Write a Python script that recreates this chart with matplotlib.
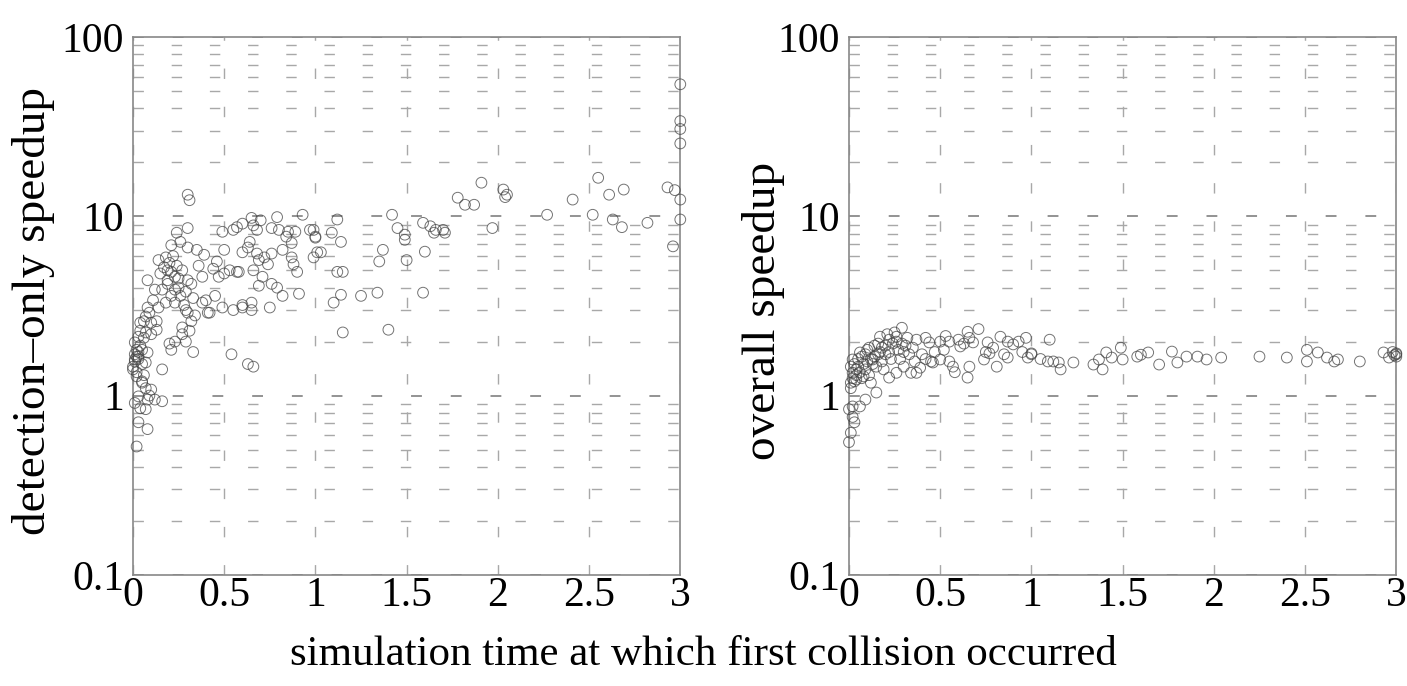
#!/usr/bin/env python

#libraries
import numpy as np
import matplotlib
matplotlib.use("Agg")
import matplotlib.pyplot as plt
from matplotlib.ticker import LogLocator, NullFormatter, FixedLocator

plt.rcParams['font.family'] = ['Liberation Serif', 'DejaVu Serif']

#detection-only speedup (left panel)
det_x = [0.30, 0.31, 0.30, 0.24, 0.21, 0.26, 0.30, 0.35, 0.39, 0.50, 0.49, 0.57, 0.60,
         0.65, 0.66, 0.68, 0.79, 0.76, 0.80, 0.93, 0.97, 1.00, 1.01, 0.99, 0.85, 0.89,
         0.84, 0.87, 0.82, 0.87, 0.88, 0.90, 0.60, 0.63, 0.64, 0.68, 0.69, 0.72, 0.76,
         0.74, 0.71, 0.76, 0.82, 0.91, 0.79, 0.69, 0.66, 0.57, 0.50, 0.47, 0.49, 0.60,
         0.65, 0.75, 0.54, 0.66, 0.38, 0.38, 0.41, 0.42, 0.33, 0.21, 0.16, 0.27, 0.29,
         0.23, 0.20, 0.14, 0.18, 0.19, 0.23, 0.27, 0.30, 0.32, 0.29, 0.25, 0.21, 0.18,
         0.14, 0.08, 0.12, 0.16, 0.19, 0.23, 0.08, 0.07, 0.04, 0.10, 0.13, 0.07, 0.03,
         0.01, 0.05, 0.08, 0.03, 0.01, 0.07, 0.00, 0.02, 0.05, 0.10, 0.03, 0.08, 0.16,
         0.01, 0.07, 0.03, 0.08, 0.02, 0.01, 0.02, 0.03, 0.02, 0.04, 0.01, 0.03, 0.00,
         0.02, 0.05, 0.06, 0.04, 0.06, 0.09, 0.11, 0.13, 0.10, 0.05, 0.07, 0.09, 0.12,
         0.04, 0.06, 0.15, 0.17, 0.20, 0.22, 0.24, 0.19, 0.21, 0.23, 0.25, 0.26, 0.28,
         0.30, 0.32, 0.27, 0.31, 0.33, 0.29, 1.91, 1.78, 1.82, 1.87, 2.05, 1.97, 1.59,
         1.63, 1.66, 1.70, 1.71, 1.65, 1.60, 1.42, 1.45, 1.49, 1.49, 1.50, 1.35, 1.15,
         1.40, 1.12, 1.09, 1.14, 1.12, 1.15, 1.14, 1.10, 1.25, 1.34, 0.99, 1.00, 1.03,
         2.03, 2.04, 2.27, 2.41, 2.55, 2.61, 2.69, 2.52, 2.63, 2.68, 2.82, 2.93, 3.00,
         3.00, 2.96, 3.00, 3.00, 3.00, 3.00, 2.97, 1.37, 1.59, 0.55, 0.60, 0.65, 0.63,
         0.55, 0.44, 0.46, 0.36, 0.40, 0.53, 0.58, 0.70, 0.45, 0.34]
det_y = [13.2, 12.3, 8.6, 8.1, 6.9, 7.2, 6.7, 6.5, 6.1, 6.5, 8.2, 8.7, 9.1,
         9.8, 8.9, 8.4, 9.9, 8.6, 8.4, 10.2, 8.4, 7.7, 6.3, 5.9, 8.2, 8.2,
         7.7, 7.1, 6.5, 5.9, 5.4, 4.9, 6.3, 6.7, 7.2, 6.2, 5.7, 5.9, 6.2,
         5.4, 4.6, 4.2, 3.6, 3.7, 4.0, 4.1, 5.0, 4.9, 4.8, 4.6, 3.1, 3.1,
         3.0, 3.1, 1.7, 1.45, 4.6, 3.3, 2.9, 2.9, 1.75, 1.8, 1.4, 2.2, 2.0,
         2.0, 1.95, 5.7, 5.9, 5.0, 4.6, 5.0, 4.4, 4.2, 3.8, 4.0, 3.6, 3.3,
         3.1, 4.4, 3.9, 3.9, 4.2, 3.3, 3.1, 2.76, 2.55, 2.55, 2.33, 2.25, 2.13,
         1.98, 1.80, 1.74, 1.65, 1.59, 1.53, 1.40, 1.28, 1.18, 1.08, 0.99, 0.95, 0.93,
         0.91, 0.84, 0.71, 0.65, 0.52, 1.7, 1.8, 1.75, 1.65, 1.9, 1.55, 1.6, 1.45,
         1.35, 1.5, 2.1, 2.3, 2.6, 2.9, 3.4, 2.6, 2.2, 1.2, 1.1, 1.0, 0.95,
         0.85, 1.3, 4.8, 5.2, 5.5, 6.0, 5.3, 4.4, 4.9, 3.9, 4.5, 3.6, 3.2,
         2.9, 2.6, 2.4, 2.3, 3.5, 3.0, 15.4, 12.7, 11.6, 11.6, 13.2, 8.6, 9.2,
         8.8, 8.4, 8.4, 8.1, 8.1, 6.35, 10.2, 8.6, 7.9, 7.4, 5.7, 5.6, 2.25,
         2.33, 9.6, 8.1, 7.2, 4.9, 4.9, 3.65, 3.3, 3.6, 3.75, 8.4, 7.6, 6.3,
         14.1, 12.8, 10.2, 12.4, 16.4, 13.2, 14.1, 10.2, 9.6, 8.7, 9.2, 14.5, 12.4,
         9.6, 6.8, 54.5, 34.0, 30.7, 25.5, 14.0, 6.5, 3.75, 3.0, 3.2, 3.3, 1.5,
         8.4, 5.1, 5.6, 5.3, 3.4, 5.0, 4.9, 9.5, 3.6, 2.8]

#overall speedup (right panel)
ovr_x = [0.29, 0.17, 0.22, 0.26, 0.32, 0.37, 0.42, 0.44, 0.50, 0.55, 0.60, 0.65, 0.66,
         0.61, 0.68, 0.76, 0.83, 0.87, 0.90, 0.74, 0.81, 0.87, 0.98, 0.65, 0.66, 0.55,
         0.50, 0.46, 0.39, 0.37, 0.34, 0.30, 0.26, 0.22, 0.19, 0.15, 0.13, 0.10, 0.06,
         0.02, 0.01, 0.02, 0.04, 0.01, 0.08, 0.12, 0.15, 0.09, 0.06, 0.02, 0.00, 0.02,
         0.03, 0.01, 0.00, 0.03, 0.05, 0.07, 0.09, 0.11, 0.14, 0.16, 0.18, 0.20, 0.24,
         0.27, 0.12, 0.16, 0.20, 0.23, 0.28, 0.30, 0.33, 0.35, 0.04, 0.06, 0.02, 0.05,
         0.08, 0.10, 0.13, 0.18, 0.22, 0.26, 0.29, 0.40, 0.42, 0.47, 0.75, 0.77, 0.95,
         1.00, 1.00, 1.05, 0.93, 1.10, 1.09, 1.12, 1.15, 1.16, 1.23, 1.34, 1.39, 1.37,
         1.41, 1.44, 1.50, 1.49, 1.58, 1.60, 1.64, 1.70, 1.77, 1.80, 1.85, 1.91, 1.96,
         2.04, 2.25, 2.40, 2.51, 2.51, 2.57, 2.62, 2.66, 2.68, 2.80, 2.93, 2.96, 3.00,
         3.00, 3.00, 2.99, 2.98, 0.01, 0.03, 0.04, 0.07, 0.09, 0.11, 0.14, 0.17, 0.21,
         0.25, 0.31, 0.36, 0.52, 0.57, 0.71, 0.79, 0.85, 0.97, 0.58, 0.45, 0.53, 0.63]
ovr_y = [2.39, 2.13, 2.05, 2.13, 2.10, 2.05, 2.10, 1.98, 2.00, 2.00, 2.05, 2.27, 2.10,
         1.88, 1.98, 1.98, 2.13, 2.00, 1.93, 1.59, 1.45, 1.63, 1.63, 1.26, 1.45, 1.55,
         1.59, 1.53, 1.43, 1.34, 1.34, 1.45, 1.34, 1.26, 1.40, 1.45, 1.59, 1.80, 1.74,
         1.59, 1.45, 1.34, 1.23, 1.18, 1.28, 1.18, 1.04, 0.95, 0.87, 0.87, 0.84, 0.76,
         0.71, 0.62, 0.55, 1.50, 1.60, 1.65, 1.70, 1.85, 1.90, 1.95, 1.85, 1.90, 1.95,
         1.80, 1.60, 1.70, 1.70, 1.60, 1.60, 1.75, 1.70, 1.85, 1.30, 1.35, 1.25, 1.45,
         1.50, 1.55, 1.50, 1.55, 1.75, 2.00, 1.95, 1.70, 1.60, 1.75, 1.75, 1.72, 1.75,
         1.70, 1.72, 1.60, 2.00, 2.05, 1.55, 1.55, 1.53, 1.40, 1.53, 1.49, 1.40, 1.59,
         1.74, 1.63, 1.59, 1.85, 1.65, 1.69, 1.74, 1.49, 1.76, 1.53, 1.65, 1.65, 1.59,
         1.63, 1.65, 1.63, 1.80, 1.55, 1.74, 1.63, 1.55, 1.59, 1.55, 1.74, 1.63, 1.65,
         1.70, 1.72, 1.68, 1.75, 1.10, 1.20, 1.40, 1.25, 1.40, 1.30, 1.65, 1.75, 2.20,
         2.25, 1.90, 1.55, 1.80, 1.45, 2.35, 1.85, 1.70, 2.10, 1.35, 1.55, 2.15, 1.95]

xticks = [0, 0.5, 1, 1.5, 2, 2.5, 3]
xticklabels = ['0', '0.5', '1', '1.5', '2', '2.5', '3']
yticks = [0.1, 1, 10, 100]
yticklabels = ['0.1', '1', '10', '100']

fig = plt.figure(figsize=(14.07, 6.86), dpi=100)
ax1 = fig.add_axes([0.0945, 0.162, 0.389, 0.784])
ax2 = fig.add_axes([0.6034, 0.162, 0.389, 0.784])

def style(ax, ylabel, labelx):
  ax.set_yscale('log')
  ax.set_xlim(0, 3)
  ax.set_ylim(0.1, 100)
  ax.xaxis.set_major_locator(FixedLocator(xticks))
  ax.set_xticklabels(xticklabels)
  ax.yaxis.set_major_locator(FixedLocator(yticks))
  ax.set_yticklabels(yticklabels)
  ax.yaxis.set_minor_locator(LogLocator(base=10, subs=np.arange(2, 10)))
  ax.yaxis.set_minor_formatter(NullFormatter())
  ax.tick_params(which='both', length=0, labelsize=30)
  ax.tick_params(axis='x', pad=1)
  ax.tick_params(axis='y', pad=6.5)
  # gnuplot-like dashed grid
  ax.grid(True, axis='y', which='major', color='#8a8a8a', lw=1.3, dashes=(6, 16))
  ax.grid(True, axis='y', which='minor', color='#a8a8a8', lw=1.0, dashes=(7.5, 20))
  ax.grid(True, axis='x', which='major', color='#a8a8a8', lw=1.0, dashes=(7.5, 20))
  for s in ax.spines.values():
    s.set_color('#888888')
    s.set_linewidth(1.2)
  ax.set_ylabel(ylabel, fontsize=34)
  ax.yaxis.set_label_coords(labelx, 0.49)
  ax.set_axisbelow(True)

ax1.scatter(det_x, det_y, s=60, facecolors='none', edgecolors='#444444',
            linewidths=0.7, alpha=0.75, clip_on=False, zorder=3)
style(ax1, 'detection\u2013only speedup', -0.143)

ax2.scatter(ovr_x, ovr_y, s=60, facecolors='none', edgecolors='#444444',
            linewidths=0.7, alpha=0.75, clip_on=False, zorder=3)
style(ax2, 'overall speedup', -0.117)

fig.text(0.5, 0.045, 'simulation time at which first collision occurred',
         ha='center', va='center', fontsize=31)

fig.savefig('out.png', dpi=100)
